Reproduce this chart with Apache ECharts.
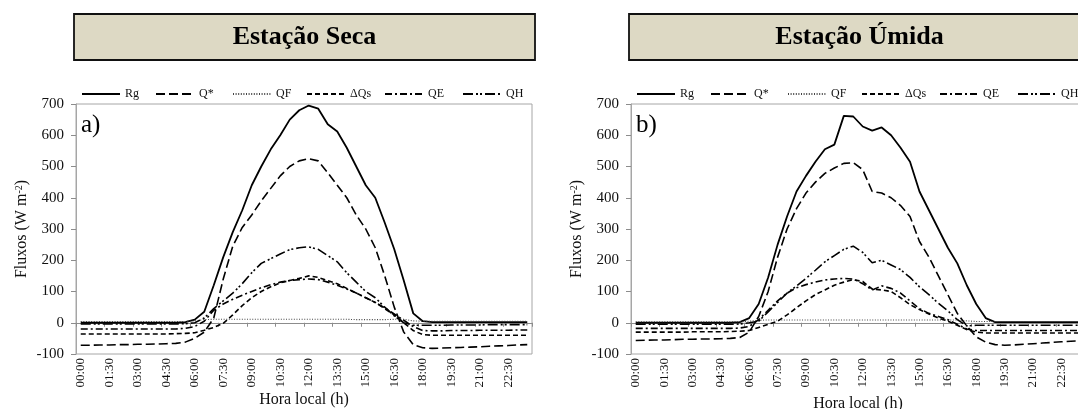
<!DOCTYPE html>
<html>
<head>
<meta charset="utf-8">
<script src="https://cdn.jsdelivr.net/npm/echarts@6/dist/echarts.min.js"></script>
<style>
  html, body { margin: 0; padding: 0; background: #fff; }
  #chart { width: 1078px; height: 409px; }
</style>
</head>
<body>
<div id="chart"></div>
<script>
// half-hour categories
const hours = [
  '00:00','00:30','01:00','01:30','02:00','02:30','03:00','03:30','04:00','04:30','05:00','05:30',
  '06:00','06:30','07:00','07:30','08:00','08:30','09:00','09:30','10:00','10:30','11:00','11:30',
  '12:00','12:30','13:00','13:30','14:00','14:30','15:00','15:30','16:00','16:30','17:00','17:30',
  '18:00','18:30','19:00','19:30','20:00','20:30','21:00','21:30','22:00','22:30','23:00','23:30'
];
const names = ['Rg', 'Q*', 'QF', 'ΔQs', 'QE', 'QH'];

// Estação Seca
const rgSeca = [0,0,0,0,0,0,0,0,0,0,0,2, 10,35,120,210,290,360,440,500,555,600,650,680,
  695,685,635,612,560,500,440,400,320,235,135,30, 5,2,2,2,2,2,2,2,2,2,2,2];
const qStarSeca = [-72,-72,-71,-71,-70,-70,-69,-69,-68,-67,-66,-62, -50,-30,15,140,245,305,345,390,430,470,500,518,
  525,518,480,440,400,345,300,240,150,50,-30,-70, -80,-82,-81,-80,-79,-78,-77,-75,-74,-73,-71,-70];
const qfSeca = [4,4,4,4,4,4,4,4,4,4,4,4, 6,10,11,11,11,11,11,11,11,11,11,11,
  11,11,11,11,11,10,10,10,10,11,11,6, 5,5,5,5,5,5,5,5,5,5,5,5];
const dqsSeca = [-36,-36,-36,-36,-36,-36,-36,-36,-36,-36,-35,-34, -32,-24,-15,-2,25,55,80,100,115,128,135,142,
  150,145,135,125,110,95,80,65,45,25,0,-25, -38,-40,-40,-40,-40,-40,-40,-40,-40,-40,-40,-40];
const qeSeca = [-20,-20,-20,-20,-20,-20,-20,-20,-20,-20,-20,-18, -12,5,40,60,75,88,100,112,122,130,135,138,
  140,138,130,120,108,95,80,65,48,28,8,-12, -25,-26,-26,-25,-25,-25,-24,-24,-24,-24,-23,-23];
const qhSeca = [-4,-4,-4,-4,-4,-4,-4,-4,-4,-4,-4,-3, 0,15,45,70,95,125,160,190,205,220,234,240,
  243,235,215,195,160,130,100,80,50,22,0,-8, -8,-8,-8,-7,-7,-7,-7,-6,-6,-6,-6,-6];

// Estação Úmida
const rgUmida = [0,0,0,0,0,0,0,0,0,0,0,2, 15,60,145,250,340,420,470,515,555,570,662,660,
  628,615,625,600,560,515,420,360,300,240,190,120, 60,15,2,2,2,2,2,2,2,2,2,2];
const qStarUmida = [-57,-56,-55,-55,-54,-53,-53,-52,-52,-51,-50,-47, -30,20,100,210,300,365,415,450,478,495,510,512,
  490,420,415,400,375,340,260,210,150,90,30,-10, -45,-62,-70,-72,-71,-69,-67,-65,-63,-61,-59,-58];
const qfUmida = [3,3,3,3,3,3,3,3,3,3,3,3, 5,8,9,9,9,9,9,9,9,9,9,9,
  9,9,9,9,9,9,9,9,9,9,9,6, 4,4,4,4,4,4,4,4,4,4,4,4];
const dqsUmida = [-30,-30,-30,-30,-30,-30,-29,-29,-29,-29,-28,-27, -25,-15,-5,5,25,48,70,90,105,120,130,138,
  132,108,105,100,80,58,42,28,15,5,-8,-22, -30,-33,-33,-33,-33,-33,-33,-33,-33,-33,-33,-33];
const qeUmida = [-18,-18,-18,-18,-18,-18,-18,-18,-18,-18,-18,-17, -12,10,40,70,95,112,122,130,137,140,142,140,
  125,105,118,110,95,70,45,30,20,10,-5,-20, -25,-25,-25,-25,-25,-25,-25,-25,-25,-25,-25,-25];
const qhUmida = [-5,-5,-5,-5,-5,-5,-5,-5,-5,-5,-5,-4, 0,5,35,65,95,118,142,168,195,215,235,245,
  225,192,200,185,170,145,115,90,62,38,10,-10, -8,-8,-8,-8,-8,-8,-8,-8,-8,-8,-8,-8];

const yTicks = [-100, 700, 100]; // min, max, interval

const FONT = "'Liberation Serif', 'Times New Roman', serif";
const INK = '#111';
const dashes = ['solid', [9, 4], [1, 1.6], [5, 3], [7, 3, 2, 3], [10, 3, 2, 2, 2, 3]];
const widths = [1.8, 1.6, 1.1, 1.6, 1.6, 1.6];
const legendOffsets = [5, 79, 156, 230, 308, 386];

const panels = [
  { title: 'Estação Seca', tag: 'a)', left: 76, width: 456, xNameGap: 38,
    data: [rgSeca, qStarSeca, qfSeca, dqsSeca, qeSeca, qhSeca] },
  { title: 'Estação Úmida', tag: 'b)', left: 631, width: 454, xNameGap: 42,
    data: [rgUmida, qStarUmida, qfUmida, dqsUmida, qeUmida, qhUmida] }
];

const grid = [], xAxis = [], yAxis = [], series = [], legend = [], graphic = [];

panels.forEach((p, k) => {
  grid.push({ left: p.left, top: 104, width: p.width, height: 250, outerBoundsMode: 'none',
    show: true, borderColor: '#a6a6a6', borderWidth: 1, backgroundColor: 'transparent' });

  xAxis.push({
    type: 'category', gridIndex: k, data: hours, boundaryGap: true, position: 'bottom',
    axisLine: { show: false, onZero: false },
    axisTick: { show: false },
    axisLabel: { interval: 2, rotate: 90, margin: 4, fontFamily: FONT, fontSize: 13, color: INK },
    name: 'Hora local (h)', nameLocation: 'middle', nameGap: p.xNameGap, nameMoveOverlap: false,
    nameTextStyle: { fontFamily: FONT, fontSize: 16, color: INK }
  });
  xAxis.push({
    type: 'category', gridIndex: k, data: hours, boundaryGap: true, position: 'top',
    axisLine: { show: true, onZero: true, lineStyle: { color: '#8c8c8c', width: 1 } },
    axisTick: { show: true, inside: true, interval: 2, length: 4, lineStyle: { color: '#8c8c8c' } },
    axisLabel: { show: false }, splitLine: { show: false }
  });

  yAxis.push({
    type: 'value', gridIndex: k, min: yTicks[0], max: yTicks[1], interval: yTicks[2],
    axisLine: { show: true, lineStyle: { color: '#a6a6a6' } },
    axisTick: { show: true, length: 5, lineStyle: { color: '#8c8c8c' } },
    axisLabel: { margin: 12, fontFamily: FONT, fontSize: 15, color: INK },
    splitLine: { show: false },
    name: 'Fluxos (W m{sup|-2})', nameLocation: 'middle', nameRotate: 90, nameGap: 46, nameMoveOverlap: false,
    nameTextStyle: { fontFamily: FONT, fontSize: 16, color: INK,
      rich: { sup: { fontFamily: FONT, fontSize: 10, color: INK, verticalAlign: 'top', padding: [0, 0, 6, 0] } } }
  });

  names.forEach((n, i) => {
    const c = i === 2 ? '#444' : '#000';
    series.push({
      name: n, type: 'line', xAxisIndex: k * 2, yAxisIndex: k,
      data: p.data[i], symbol: 'none', smooth: false, color: c,
      lineStyle: { color: c, width: widths[i], type: dashes[i] },
      z: 3
    });
    legend.push({
      data: [n], left: p.left + legendOffsets[i], top: 88,
      itemWidth: 38, itemHeight: 12, padding: 0, selectedMode: false,
      itemStyle: { color: 'rgba(0,0,0,0)', borderColor: 'rgba(0,0,0,0)', borderWidth: 0 },
      textStyle: { fontFamily: FONT, fontSize: 12, color: INK }
    });
  });

  graphic.push({
    type: 'rect', x: p.left - 2, y: 14,
    shape: { width: 461, height: 46 },
    style: { fill: '#ddd9c4', stroke: '#111', lineWidth: 1.8 }
  });
  graphic.push({
    type: 'text', x: p.left - 2 + 230.5, y: 37,
    style: { text: p.title, font: 'bold 26px ' + FONT, fill: '#000', align: 'center', verticalAlign: 'middle' }
  });
  graphic.push({
    type: 'text', x: p.left + 5, y: 125,
    style: { text: p.tag, font: '25px ' + FONT, fill: '#000', align: 'left', verticalAlign: 'middle' }
  });
});

const chart = echarts.init(document.getElementById('chart'), null, { renderer: 'canvas' });
chart.setOption({
  animation: false,
  backgroundColor: '#fff',
  grid, xAxis, yAxis, series, legend, graphic
});
</script>
</body>
</html>
